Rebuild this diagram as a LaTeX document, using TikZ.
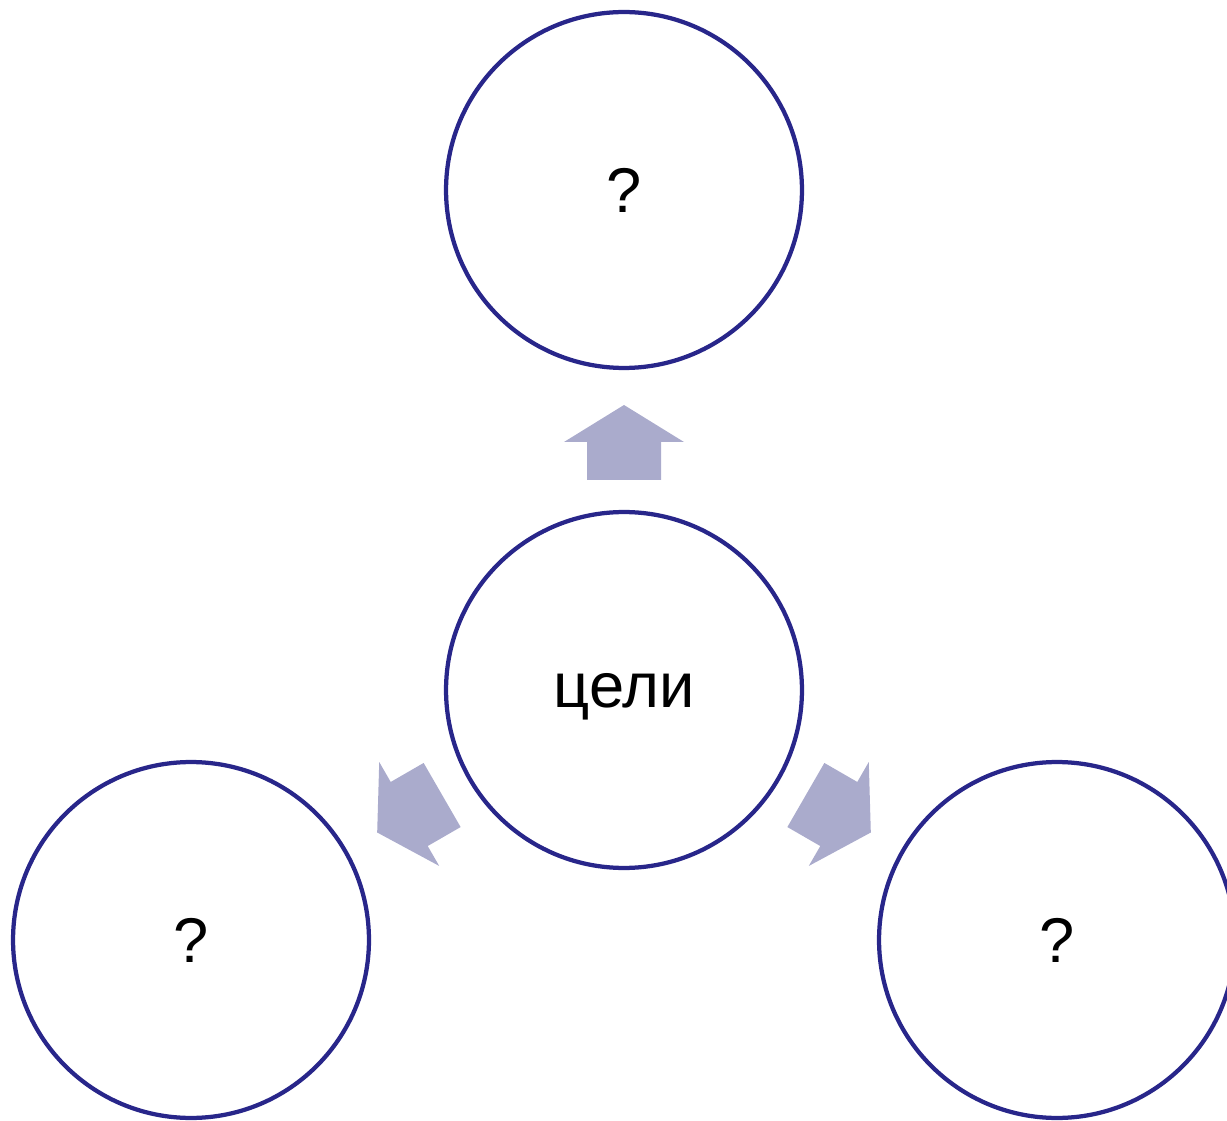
\documentclass[tikz,border=0pt]{standalone}
\usepackage{fontspec}
\setmainfont{Liberation Sans}
\definecolor{ringblue}{RGB}{40,38,138}
\definecolor{arrowgray}{RGB}{170,171,204}
\begin{document}
\begin{tikzpicture}[x=0.02cm,y=0.02cm,
  ring/.style={circle,draw=ringblue,line width=0.085cm,minimum size=7.12cm,inner sep=0pt,font=\fontsize{36}{42}\selectfont},
  blockarrow/.style={fill=arrowgray}]
\useasboundingbox (0,0) rectangle (1227,1120);
\clip (0,0) rectangle (1227,1120);
\node[ring] (top) at (624,930) {?};
\node[ring,text depth=0pt] (goal) at (624,430) {цели};
\node[ring] (left) at (191,180) {?};
\node[ring] (right) at (1057,180) {?};
\foreach \a in {0,120,-120}
  \fill[blockarrow, shift={(goal.center)}, rotate=\a]
    (-37,210) -- (-37,248) -- (-60,248) -- (0,285) -- (60,248) -- (37,248) -- (37,210) -- cycle;
\end{tikzpicture}
\end{document}
